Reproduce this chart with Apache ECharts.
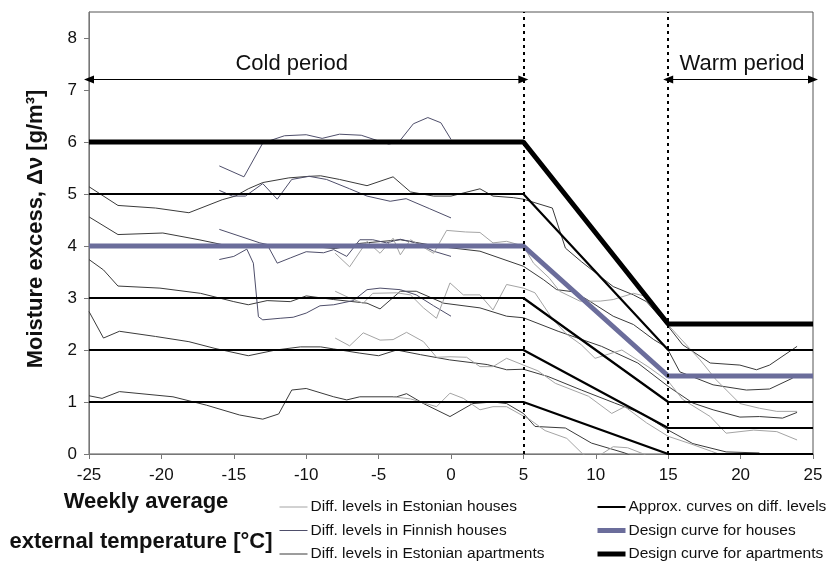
<!DOCTYPE html>
<html>
<head>
<meta charset="utf-8">
<script src="https://cdn.jsdelivr.net/npm/echarts@6/dist/echarts.min.js"></script>
<style>
  html, body { margin: 0; padding: 0; background: #fff; }
  #chart { width: 836px; height: 564px; }
</style>
</head>
<body>
<div id="chart"></div>
<script>
// Weekly average outdoor temperature (°C) vs. indoor moisture excess (g/m³)

const xTicks = [-25, -20, -15, -10, -5, 0, 5, 10, 15, 20, 25];
const yTicks = [0, 1, 2, 3, 4, 5, 6, 7, 8];

// Measured difference levels, Estonian houses: [temperature, moisture excess]
const estHouses = [
  [[-8,3.86],[-7,3.6],[-5.8,4.09],[-4.9,3.86],[-4,4.15],[-3.5,3.83],[-2.8,4.12],[-1.2,3.86],[-0.3,4.3],[1,4.27],[2,4.26],[2.9,4.06],[3.84,4.09],[5,4.0],[5.7,3.67],[6.8,3.38],[7.5,3.13],[8.9,2.94],[10.3,2.94],[11.2,2.97],[12.6,3.09],[13.5,3.03],[14.9,2.52],[15.1,2.45],[17.2,1.81],[18.3,1.43],[19.95,0.97],[21.3,0.88],[22.5,0.82],[23.9,0.82]],
  [[-8,3.13],[-7,3.0],[-6.06,2.9],[-5.4,3.09],[-3.75,3.1],[-2.8,3.06],[-1.9,2.81],[-1,2.61],[-0.07,3.29],[0.85,3.06],[2,3.06],[2.9,2.77],[3.84,3.26],[5,3.19],[5.8,3.1],[7,2.6],[8,2.3],[9,2.1],[9.95,1.84],[11.8,2.0],[13.6,1.68],[15,1.4],[16,1.05],[17.9,0.72],[19,0.4],[20.9,0.46],[22.5,0.43],[23.9,0.27]],
  [[-8,2.23],[-7,2.08],[-6.06,2.33],[-4.9,2.19],[-4,2.2],[-3.07,2.34],[-1.9,2.16],[-1,1.86],[-0.07,1.87],[1.08,1.86],[2,1.68],[2.9,1.68],[3.84,1.84],[5,1.71],[6,1.6],[7.2,1.36],[9.5,1.11],[11.1,0.78],[12,0.91],[13.5,0.6],[15,0.34],[16.5,0.2],[18,0.05],[19,-0.05]],
  [[-4,1.1],[-2.8,1.06],[-1,0.91],[-0.07,1.17],[0.85,1.07],[2,0.85],[2.9,0.91],[3.84,0.91],[5.45,0.66],[6.5,0.45],[8,0.3],[9.1,0.0],[9.7,-0.1],[10.4,0.0],[11.2,0.14],[12.2,0.12],[13.3,0.0],[14,-0.1]]
];

// Measured difference levels, Finnish houses
const finHouses = [
  [[-16,5.54],[-14.3,5.33],[-13,5.98],[-11.5,6.12],[-10,6.14],[-8.9,6.07],[-7.7,6.15],[-6.2,6.13],[-5,6.02],[-4.3,5.96],[-3.6,6.0],[-2.6,6.35],[-1.6,6.47],[-0.7,6.37],[0,6.05]],
  [[-16,5.07],[-15.1,4.96],[-14.2,4.96],[-13,5.2],[-12,4.9],[-11,5.28],[-9.8,5.34],[-8.6,5.28],[-7,5.1],[-5.8,4.96],[-4.2,4.86],[-3.1,4.91],[-1.5,4.72],[0,4.54]],
  [[-16,4.32],[-13.2,4.06],[-12.7,4.03],[-12,3.67],[-11.1,3.77],[-10,3.89],[-8.8,3.87],[-8.1,3.93],[-7.2,3.8],[-6.3,4.12],[-5.4,4.12],[-4.45,4.06],[-3.5,4.13],[-2.4,4.06],[-1.2,3.9],[0,3.8]],
  [[-16,3.74],[-15,3.8],[-14.1,3.94],[-13.65,3.67],[-13.3,2.64],[-13,2.58],[-11.8,2.61],[-10.9,2.63],[-10,2.71],[-9.05,2.85],[-8.1,2.87],[-6.75,2.95],[-5.8,3.16],[-4.9,3.19],[-3.5,3.16],[-2.4,3.06],[-1.2,2.85],[0,2.65]]
];

// Measured difference levels, Estonian apartments
const estApartments = [
  [[-25,5.14],[-23,4.78],[-20.4,4.73],[-18.1,4.64],[-15.8,4.89],[-14.9,4.96],[-14,5.1],[-13,5.22],[-11.2,5.31],[-9.8,5.34],[-9,5.35],[-7.7,5.28],[-5.8,5.16],[-4,5.33],[-2.8,5.04],[-1.2,4.96],[0,4.96],[2,5.1],[2.9,4.96],[4.3,4.93],[5,4.9],[7,4.73],[7.9,3.96],[9,3.7],[11.2,3.22],[12.6,3.06],[13.5,2.93],[14.9,2.49],[16,2.1],[17.9,1.75],[19.95,1.71],[21.1,1.62],[22,1.71],[23.9,2.07]],
  [[-25,4.56],[-23,4.22],[-19.9,4.25],[-17.4,4.12],[-15,3.98],[-12.5,4.02],[-10,4.0],[-8,3.95],[-6.3,4.05],[-3.5,4.12],[-0.8,3.99],[2,3.9],[5,3.61],[6.4,3.35],[7.3,3.16],[8.45,3.12],[9.4,2.97],[11.2,2.65],[12.6,2.49],[14,2.2],[14.9,2.05],[15.8,1.58],[18.1,1.33],[20.4,1.23],[22,1.25],[23.6,1.46]],
  [[-25,3.74],[-24,3.54],[-23,3.23],[-20.1,3.19],[-17.3,3.09],[-15,2.93],[-14,2.87],[-12.7,2.95],[-11.1,2.93],[-10,3.04],[-8.1,2.97],[-5.8,2.9],[-4.9,2.79],[-3.5,3.13],[-2.4,3.13],[-0.5,2.9],[2,2.81],[3.84,2.65],[5,2.62],[7.4,2.36],[10.4,2.07],[12.9,1.75],[15,1.3],[16.7,0.98],[18.1,0.85],[19.95,0.71],[21.3,0.72],[22.9,0.69],[23.9,0.8]],
  [[-25,2.74],[-24,2.23],[-22.9,2.36],[-20.4,2.26],[-18.1,2.16],[-16.3,2.03],[-14,1.89],[-12.1,2.0],[-10.4,2.06],[-9,2.06],[-8.1,2.02],[-6.3,1.94],[-5,1.89],[-3.75,2.0],[-2.1,1.91],[-0.1,1.81],[2.5,1.72],[3.84,1.62],[5,1.63],[6.7,1.49],[9,1.23],[11.3,0.98],[13.2,0.78],[15,0.46],[16.7,0.2],[19,0.04],[21.3,0.02]],
  [[-25,1.12],[-24.1,1.07],[-22.9,1.2],[-19.2,1.1],[-16.9,0.94],[-14.6,0.75],[-13,0.67],[-11.9,0.77],[-11,1.23],[-10,1.26],[-8.1,1.1],[-7.2,1.04],[-6.3,1.1],[-3.75,1.1],[-3.07,1.16],[-1.9,0.97],[-0.07,0.72],[1.5,0.97],[2.9,1.0],[3.84,0.97],[5,0.78],[5.8,0.53],[7.9,0.5],[9.7,0.21],[12,0.02],[13,-0.1]]
];

// Break-point temperatures of the approximation / design curves
const curveX = [-25, 5, 15, 25];
// Approximated curves on the different levels
const approxLevels = [
  [1, 1, 0, 0],
  [2, 2, 0.5, 0.5],
  [3, 3, 1, 1],
  [5, 5, 2, 2]
];
const designHouses = [4, 4, 1.5, 1.5];
const designApartments = [6, 6, 2.5, 2.5];

// Period boundaries
const coldPeriod = [-25, 5];
const warmPeriod = [15, 25];
const periodArrowLevel = 7.2;

const NAMES = {
  est: 'Diff. levels in Estonian houses',
  fin: 'Diff. levels in Finnish houses',
  apt: 'Diff. levels in Estonian apartments',
  approx: 'Approx. curves on diff. levels',
  dHouses: 'Design curve for houses',
  dApt: 'Design curve for apartments'
};

const FONT = '"Liberation Sans", Arial, sans-serif';

const zip = (xs, ys) => xs.map((x, i) => [x, ys[i]]);

function thinLine(name, color, pts) {
  return {
    type: 'line', name, data: pts, symbol: 'none', silent: true,
    lineStyle: { color, width: 1 }, itemStyle: { color }, z: 2
  };
}

const series = [];
estApartments.forEach(p => series.push(thinLine(NAMES.apt, '#3a3a3a', p)));
finHouses.forEach(p => series.push(thinLine(NAMES.fin, '#4e4e6a', p)));
estHouses.forEach(p => series.push(thinLine(NAMES.est, '#a4a4a4', p)));

approxLevels.forEach((lv, i) => {
  const s = {
    type: 'line', name: NAMES.approx, data: zip(curveX, lv), symbol: 'none', silent: true,
    lineStyle: { color: '#000', width: 2.2 }, itemStyle: { color: '#000' }, z: 3
  };
  if (i === 0) {
    // dotted period boundaries
    s.markLine = {
      silent: true, symbol: 'none', animation: false,
      label: { show: false },
      lineStyle: { color: '#000', width: 2, type: [3, 4] },
      data: [{ xAxis: coldPeriod[1] }, { xAxis: warmPeriod[0] }]
    };
  }
  series.push(s);
});

series.push({
  type: 'line', name: NAMES.dHouses, data: zip(curveX, designHouses), symbol: 'none', silent: true,
  lineStyle: { color: '#6b6d9b', width: 5 }, itemStyle: { color: '#6b6d9b' }, z: 4
});
series.push({
  type: 'line', name: NAMES.dApt, data: zip(curveX, designApartments), symbol: 'none', silent: true,
  lineStyle: { color: '#000', width: 5 }, itemStyle: { color: '#000' }, z: 5,
  markLine: {
    silent: true, animation: false,
    symbol: ['triangle', 'triangle'], symbolSize: [8, 10],
    label: { show: false },
    lineStyle: { color: '#000', width: 1, type: 'solid' },
    data: [
      [{ coord: [coldPeriod[0], periodArrowLevel] }, { coord: [coldPeriod[1], periodArrowLevel] }],
      [{ coord: [warmPeriod[0], periodArrowLevel] }, { coord: [warmPeriod[1], periodArrowLevel] }]
    ]
  },
  markPoint: {
    silent: true, animation: false,
    symbol: 'circle', symbolSize: 1,
    itemStyle: { color: 'rgba(0,0,0,0)' },
    label: {
      show: true, position: 'inside', formatter: p => p.name,
      color: '#111', fontFamily: FONT, fontSize: 22
    },
    data: [
      { name: 'Cold period', coord: [-11, 7.51] },
      { name: 'Warm period', coord: [20.1, 7.51] }
    ]
  }
});

const chart = echarts.init(document.getElementById('chart'), null, { renderer: 'canvas' });

const legendCommon = {
  orient: 'vertical', top: 499, itemWidth: 28, itemHeight: 14, itemGap: 7.5,
  selectedMode: false, padding: 0,
  itemStyle: { opacity: 0, borderWidth: 0 },
  textStyle: { fontFamily: FONT, fontSize: 15.5, color: '#111', padding: [0, 0, 0, -2] }
};

chart.setOption({
  animation: false,
  backgroundColor: '#fff',
  textStyle: { fontFamily: FONT },
  grid: {
    left: 89, right: 23, top: 12, bottom: 110,
    show: true, borderColor: '#555', borderWidth: 1, backgroundColor: 'transparent'
  },
  xAxis: {
    type: 'value', min: -25, max: 25, interval: 5,
    axisLine: { show: true, onZero: false, lineStyle: { color: '#777', width: 1 } },
    axisTick: { show: true, inside: false, length: 5, lineStyle: { color: '#777' }, customValues: xTicks },
    axisLabel: { color: '#111', fontSize: 17, fontFamily: FONT, margin: 13, customValues: xTicks },
    splitLine: { show: false }
  },
  yAxis: {
    type: 'value', min: 0, max: 8.5, interval: 1,
    axisLine: { show: true, onZero: false, lineStyle: { color: '#777', width: 1 } },
    axisTick: { show: true, inside: false, length: 5, lineStyle: { color: '#777' }, customValues: yTicks },
    axisLabel: { color: '#111', fontSize: 17, fontFamily: FONT, margin: 12, customValues: yTicks },
    splitLine: { show: false }
  },
  legend: [
    Object.assign({
      left: 279,
      data: [
        { name: NAMES.est, lineStyle: { width: 1 } },
        { name: NAMES.fin, lineStyle: { width: 1 } },
        { name: NAMES.apt, lineStyle: { width: 1 } }
      ]
    }, legendCommon),
    Object.assign({
      left: 595,
      data: [
        { name: NAMES.approx, lineStyle: { width: 2 } },
        { name: NAMES.dHouses, lineStyle: { width: 5 } },
        { name: NAMES.dApt, lineStyle: { width: 5 } }
      ]
    }, legendCommon)
  ],
  graphic: [
    {
      type: 'text', x: 36, y: 229, rotation: Math.PI / 2,
      style: {
        text: 'Moisture excess, \u0394\u03bd [g/m\u00b3]',
        font: 'bold 22px ' + FONT, fill: '#111',
        align: 'center', verticalAlign: 'middle'
      }
    },
    {
      type: 'text', x: 146, y: 502,
      style: {
        text: 'Weekly average', font: 'bold 22px ' + FONT, fill: '#111',
        align: 'center', verticalAlign: 'middle'
      }
    },
    {
      type: 'text', x: 141, y: 542,
      style: {
        text: 'external temperature [\u00b0C]', font: 'bold 22px ' + FONT, fill: '#111',
        align: 'center', verticalAlign: 'middle'
      }
    }
  ],
  series
});
</script>
</body>
</html>
